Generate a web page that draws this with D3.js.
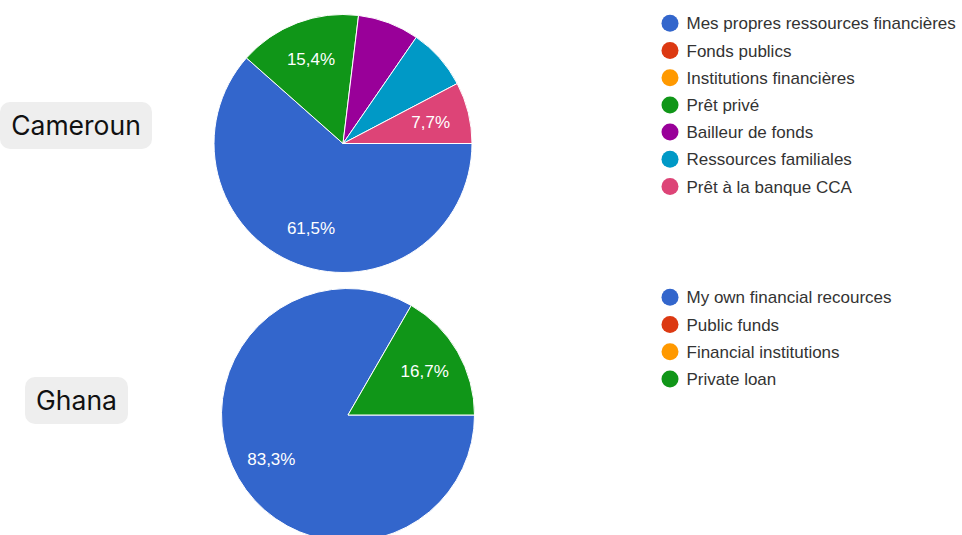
<!DOCTYPE html>
<html>
<head>
<meta charset="utf-8">
<script src="https://cdn.jsdelivr.net/npm/d3@7"></script>
<style>
  body { margin: 0; background: #fff; }
  svg { display: block; }
</style>
</head>
<body>
<div id="pies"></div>
<script>
// data (responses per source)
const cmCategories = ["Mes propres ressources financières", "Fonds publics", "Institutions financières",
    "Prêt privé", "Bailleur de fonds", "Ressources familiales", "Prêt à la banque CCA"];
const cmValues = [8, 0, 0, 2, 1, 1, 1];
const cmLabels = ["61,5%", "", "", "15,4%", "", "", "7,7%"];

const ghCategories = ["My own financial recources", "Public funds", "Financial institutions", "Private loan"];
const ghValues = [5, 0, 0, 1];
const ghLabels = ["83,3%", "", "", "16,7%"];

const countries = ["Cameroun", "Ghana"];

const width = 962, height = 535;

// google forms palette
const colors = ["#3366cc", "#dc3912", "#ff9900", "#109618", "#990099", "#0099c6", "#dd4477"];

const svg = d3.select("#pies")
    .append("svg")
    .attr("width", width)
    .attr("height", height);

const pie = d3.pie()
    .sort(null)
    .startAngle(Math.PI / 2)
    .endAngle(Math.PI / 2 + 2 * Math.PI);

function drawPie(cx, cy, r, values, labels, categories, legendX, legendY) {
    const g = svg.append("g")
        .attr("transform", `translate(${cx},${cy})`);

    const arc = d3.arc().innerRadius(0).outerRadius(r);
    const labelArc = d3.arc().innerRadius(r * 0.7).outerRadius(r * 0.7);
    const color = d3.scaleOrdinal().domain(categories).range(colors);

    const arcs = pie(values);

    g.selectAll("path")
        .data(arcs.filter(d => d.value > 0))
        .join("path")
        .attr("d", arc)
        .attr("fill", d => color(categories[d.index]))
        .attr("stroke", "#fff")
        .attr("stroke-width", 1);

    g.selectAll("text")
        .data(arcs.filter(d => labels[d.index] !== ""))
        .join("text")
        .attr("transform", d => `translate(${labelArc.centroid(d)})`)
        .attr("text-anchor", "middle")
        .attr("dy", "0.36em")
        .attr("fill", "#fff")
        .style("font-family", "'Liberation Sans', Arial, sans-serif")
        .style("font-size", "17px")
        .text(d => labels[d.index]);

    // legend
    const leg = svg.append("g")
        .attr("transform", `translate(${legendX},${legendY})`);
    const rows = leg.selectAll("g")
        .data(categories)
        .join("g")
        .attr("transform", (d, i) => `translate(0,${i * 27.2})`);
    rows.append("circle")
        .attr("r", 8.5)
        .attr("fill", d => color(d));
    rows.append("text")
        .attr("x", 16.5)
        .attr("dy", "0.36em")
        .attr("fill", "#333")
        .style("font-family", "'Liberation Sans', Arial, sans-serif")
        .style("font-size", "17px")
        .text(d => d);
}

drawPie(343, 143.5, 129, cmValues, cmLabels, cmCategories, 670, 23.3);
drawPie(348, 415, 126.5, ghValues, ghLabels, ghCategories, 670, 297.3);

// country tags on the left
const tags = [
    {x: 0, y: 102, w: 152, h: 47},
    {x: 25, y: 377, w: 103, h: 47}
];
tags.forEach(function(t, i) {
    svg.append("rect")
        .attr("x", t.x)
        .attr("y", t.y)
        .attr("width", t.w)
        .attr("height", t.h)
        .attr("rx", 10)
        .attr("fill", "#eeeeee");
    svg.append("text")
        .attr("x", t.x + t.w / 2)
        .attr("y", t.y + t.h / 2)
        .attr("dy", "0.35em")
        .attr("text-anchor", "middle")
        .attr("fill", "#111")
        .style("font-family", "Inter, sans-serif")
        .style("font-size", "26.5px")
        .text(countries[i]);
});
</script>
</body>
</html>
